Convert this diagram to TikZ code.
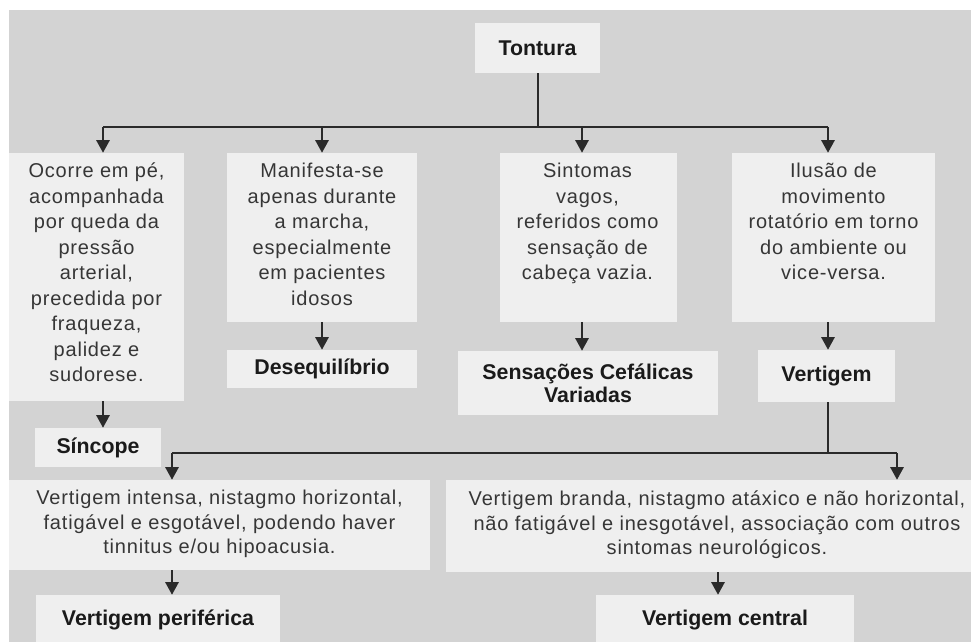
\documentclass[tikz,border=0pt]{standalone}
\usepackage{fontspec}
\setmainfont{Liberation Sans}
\newfontfamily\bodyfont{Liberation Sans}[LetterSpace=4]
\usetikzlibrary{arrows.meta,fit}
\definecolor{bggray}{HTML}{D3D3D3}
\definecolor{boxfill}{HTML}{EFEFEF}
\definecolor{txtgray}{HTML}{363636}
\definecolor{titlecol}{HTML}{1A1A1A}
\definecolor{linecol}{HTML}{2A2A2A}
\begin{document}
\begin{tikzpicture}[x=0.75pt,y=-0.75pt,
  panel/.style={fill=boxfill, draw=none, inner sep=0pt},
  desc/.style={font=\bodyfont\fontsize{15}{19.1}\selectfont, text=txtgray, align=center, inner sep=0pt},
  desctop/.style={desc, anchor=north, execute at begin node={\rule{0pt}{12pt}}},
  desclow/.style={desc, font=\bodyfont\fontsize{15}{18.4}\selectfont},
  title/.style={panel, font=\bfseries\fontsize{16}{17.3}\selectfont, text=titlecol, align=center},
  tsize/.style 2 args={minimum width=#1*0.75pt, minimum height=#2*0.75pt},
  link/.style={draw=linecol, line width=1.5pt},
  arr/.style={link, -{Triangle[width=10pt,length=9.5pt]}}
]
\useasboundingbox (0,0) rectangle (971,642);
\fill[white] (0,0) rectangle (971,642);
\fill[bggray] (9,10) rectangle (971,642);

% top
\node[title, tsize={125}{50}] (tont) at (537.5,48) {Tontura};

% description panels
\node[panel, fit={(9,153) (184,401)}] (b1) {};
\node[panel, fit={(227,153) (417,322)}] (b2) {};
\node[panel, fit={(500,153) (677,322)}] (b3) {};
\node[panel, fit={(732,153) (935,322)}] (b4) {};
\node[desctop] (t1) at (96.5,163) {Ocorre em pé,\\acompanhada\\por queda da\\pressão\\arterial,\\precedida por\\fraqueza,\\palidez e\\sudorese.};
\node[desctop] (t2) at (322,163) {Manifesta-se\\apenas durante\\a marcha,\\especialmente\\em pacientes\\idosos};
\node[desctop] (t3) at (587.5,163) {Sintomas\\vagos,\\referidos como\\sensação de\\cabeça vazia.};
\node[desctop] (t4) at (833.5,163) {Ilusão de\\movimento\\rotatório em torno\\do ambiente ou\\vice-versa.};

% middle titles
\node[title, tsize={126}{39}] (sinc) at (98,447.5) {Síncope};
\node[title, tsize={190}{38}] (deseq) at (322,369) {Desequilíbrio};
\node[title, tsize={260}{64}] (sens) at (588,383) {Sensações Cefálicas\\Variadas};
\node[title, tsize={137}{52}] (vert) at (826.5,376) {Vertigem};

% lower panels
\node[panel, fit={(9,480) (430,570)}] (b5) {};
\node[panel, fit={(446,480) (971,572)}] (b6) {};
\node[desclow] (t5) at (219.5,524) {Vertigem intensa, nistagmo horizontal,\\fatigável e esgotável, podendo haver\\tinnitus e/ou hipoacusia.};
\node[desclow] (t6) at (717,525) {Vertigem branda, nistagmo atáxico e não horizontal,\\não fatigável e inesgotável, associação com outros\\sintomas neurológicos.};

% bottom titles
\node[title, tsize={244}{50}] (perif) at (158,620) {Vertigem periférica};
\node[title, tsize={258}{50}] (central) at (725,620) {Vertigem central};

% connector points
\coordinate (h1) at (537.5,127);
\coordinate (hL) at (103,127);
\coordinate (hR) at (828,127);
\coordinate (a3) at (582,127);
\coordinate (h2) at (828,453);
\coordinate (l2L) at (172,453);
\coordinate (l2R) at (897,453);
\coordinate (a6) at (718,453);

% top tree
\draw[link] (tont.south) -- (h1);
\draw[link] (hL) -- (hR);
\draw[arr] (hL) -- (hL |- b1.north);
\draw[arr] (b2.north |- hL) -- (b2.north);
\draw[arr] (a3) -- (a3 |- b3.north);
\draw[arr] (hR) -- (hR |- b4.north);

% panels to titles
\draw[arr] (hL |- b1.south) -- (hL |- sinc.north);
\draw[arr] (b2.south) -- (deseq.north);
\draw[arr] (a3 |- b3.south) -- (a3 |- sens.north);
\draw[arr] (hR |- b4.south) -- (hR |- vert.north);

% lower tree
\draw[link] (hR |- vert.south) -- (h2);
\draw[link] (l2L) -- (l2R);
\draw[arr] (l2L) -- (l2L |- b5.north);
\draw[arr] (l2R) -- (l2R |- b6.north);
\draw[arr] (l2L |- b5.south) -- (l2L |- perif.north);
\draw[arr] (a6 |- b6.south) -- (a6 |- central.north);
\end{tikzpicture}
\end{document}
